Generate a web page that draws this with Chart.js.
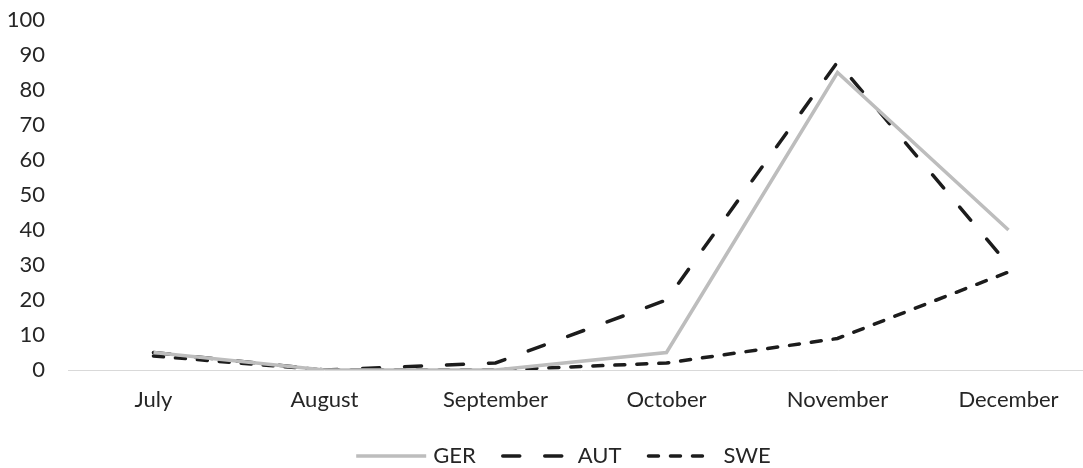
<!DOCTYPE html>
<html>
<head>
<meta charset="utf-8">
<script src="https://cdn.jsdelivr.net/npm/chart.js@4.4.0/dist/chart.umd.min.js"></script>
<style>
	html, body { margin: 0; padding: 0; background: #fff; overflow: hidden; }
	#wrap { width: 1083px; height: 468px; overflow: hidden; }
</style>
</head>
<body>
<div id="wrap"><canvas id="chart" width="1100" height="477"></canvas></div>
<script>
	'use strict';

	var months = ['July', 'August', 'September', 'October', 'November', 'December'];
	var gerValues = [5, 0, 0, 5, 85, 40];
	var autValues = [5, 0, 2, 20, 88, 30];
	var sweValues = [4, 0, 0, 2, 9, 28];
	var yTicks = [0, 10, 20, 30, 40, 50, 60, 70, 80, 90, 100];

	var textColor = '#262626',
		fontFamily = 'Lato, "Open Sans", sans-serif',
		fontSize = 22;

	// shift the legend a bit right so it sits where the original one is
	var legendShift = {
		id: 'legendShift',
		afterLayout: function (chart) {
			chart.legend.left += 33;
		}
	};

	// draws the line samples over the (empty) legend boxes
	var legendLines = {
		id: 'legendLines',
		afterDraw: function (chart) {
			var legend = chart.legend,
				ctx = chart.ctx;

			legend.legendHitBoxes.forEach(function (box, i) {
				var ds = chart.data.datasets[i],
					y = box.top + box.height / 2,
					round = ds.borderCapStyle === 'round',
					start = round ? box.left + 2 : box.left,
					end = round ? box.left + 61 : box.left + 70;

				ctx.save();
				ctx.strokeStyle = ds.borderColor;
				ctx.lineWidth = ds.borderWidth;
				ctx.lineCap = ds.borderCapStyle;
				ctx.setLineDash(ds.borderDash || []);
				ctx.beginPath();
				ctx.moveTo(start, y);
				ctx.lineTo(end, y);
				ctx.stroke();
				ctx.restore();
			});
		}
	};

	new Chart(document.getElementById('chart'), {
		type: 'line',
		data: {
			labels: months,
			datasets: [{
				label: 'GER',
				data: gerValues,
				borderColor: '#bdbdbd',
				borderWidth: 3.5,
				borderCapStyle: 'butt',
				borderDash: []
			}, {
				label: 'AUT',
				data: autValues,
				borderColor: '#1c1c1c',
				borderWidth: 3.5,
				borderCapStyle: 'round',
				borderDash: [17, 25]
			}, {
				label: 'SWE',
				data: sweValues,
				borderColor: '#1c1c1c',
				borderWidth: 3.5,
				borderCapStyle: 'round',
				borderDash: [10, 12]
			}]
		},
		options: {
			responsive: false,
			animation: false,
			layout: { padding: { top: 20, left: 0, right: 6, bottom: 0 } },
			elements: {
				point: { radius: 0 },
				line: { tension: 0, fill: false }
			},
			scales: {
				x: {
					offset: true,
					grid: { display: false, drawTicks: false },
					border: { display: true, color: '#d9d9d9', width: 1 },
					ticks: {
						color: textColor,
						padding: 17,
						maxRotation: 0,
						font: { family: fontFamily, size: fontSize }
					},
					afterFit: function (scale) {
						scale.height = 50;
						scale.paddingLeft = 0;
						scale.paddingRight = 0;
					}
				},
				y: {
					min: 0,
					max: 100,
					afterBuildTicks: function (scale) {
						scale.ticks = yTicks.map(function (v) { return { value: v }; });
					},
					grid: { display: false, drawTicks: false },
					border: { display: false },
					ticks: {
						color: textColor,
						padding: 23,
						font: { family: fontFamily, size: fontSize }
					},
					afterFit: function (scale) {
						scale.width = 68;
						scale.paddingTop = 0;
						scale.paddingBottom = 0;
					}
				}
			},
			plugins: {
				tooltip: { enabled: false },
				legend: {
					position: 'bottom',
					labels: {
						color: textColor,
						boxWidth: 66,
						boxHeight: 4,
						padding: 25,
						font: { family: fontFamily, size: fontSize },
						generateLabels: function (chart) {
							return chart.data.datasets.map(function (ds, i) {
								return {
									text: ds.label,
									fillStyle: 'rgba(0,0,0,0)',
									strokeStyle: 'rgba(0,0,0,0)',
									lineWidth: 0,
									datasetIndex: i,
									fontColor: textColor
								};
							});
						}
					}
				}
			}
		},
		plugins: [legendShift, legendLines]
	});
</script>
</body>
</html>
